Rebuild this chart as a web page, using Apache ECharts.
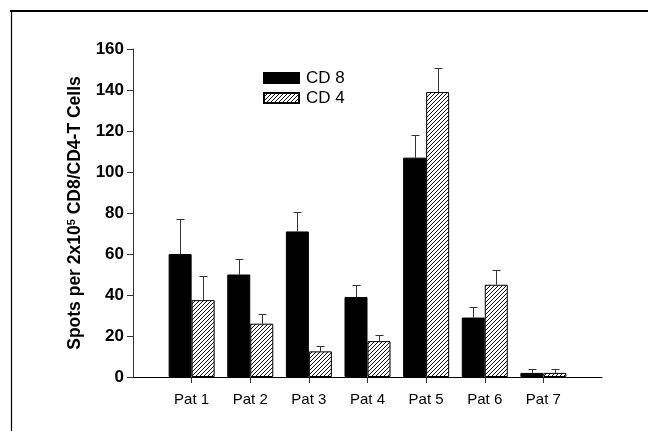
<!DOCTYPE html>
<html>
<head>
<meta charset="utf-8">
<script src="https://cdn.jsdelivr.net/npm/echarts@6/dist/echarts.min.js"></script>
<style>
  html, body { margin: 0; padding: 0; background: #fff; overflow: hidden; }
  #chart { width: 648px; height: 431px; }
</style>
</head>
<body>
<div id="chart"></div>
<script>
// values
const patients = ['Pat 1', 'Pat 2', 'Pat 3', 'Pat 4', 'Pat 5', 'Pat 6', 'Pat 7']
const cd8Values = [60, 50, 71, 39, 107, 29, 2]
const cd8Errors = [17, 7.5, 9.5, 6, 11, 5, 2]
const cd4Values = [37.5, 26, 12.5, 17.5, 139, 45, 2]
const cd4Errors = [12, 4.5, 2.5, 3, 11.5, 7, 2]
const yTicks = [0, 20, 40, 60, 80, 100, 120, 140, 160]

// empty slot on both ends so the axis runs half a bar group past Pat 1 / Pat 7
const categories = [''].concat(patients, [''])
function pad(arr) {
  return [null].concat(arr, [null])
}

// hatch pattern "/" for CD 4
function makeHatch() {
  let c = document.createElement('canvas')
  c.width = 4
  c.height = 4
  let ctx = c.getContext('2d')
  ctx.fillStyle = '#fff'
  ctx.fillRect(0, 0, 4, 4)
  ctx.fillStyle = '#111'
  for (let i = 0; i < 4; i++) {
    ctx.fillRect(i, 3 - i, 1, 1)
  }
  return c
}

const BAR_W = 23
let chart = echarts.init(document.getElementById('chart'))

function errorSeries(values, errors, shift) {
  let data = values.map(function (v, i) {
    return [i + 1, v, v + errors[i]]
  })
  return {
    type: 'custom',
    silent: true,
    z: 1,
    data: data,
    renderItem: function (params, api) {
      let base = api.coord([api.value(0), api.value(1)])
      let top = api.coord([api.value(0), api.value(2)])
      let x = Math.round(base[0] + shift * BAR_W / 2) + 0.5
      let yt = Math.round(top[1]) + 0.5
      return {
        type: 'group',
        children: [
          {type: 'line', shape: {x1: x, y1: base[1], x2: x, y2: yt}, style: {stroke: '#333', lineWidth: 1}},
          {type: 'line', shape: {x1: x - 4, y1: yt, x2: x + 4, y2: yt}, style: {stroke: '#333', lineWidth: 1}}
        ]
      }
    }
  }
}

let option = {
  animation: false,
  backgroundColor: '#fff',
  textStyle: {fontFamily: 'Liberation Sans, Arial, sans-serif'},
  grid: {left: 133, right: 46, top: 49, bottom: 54},
  legend: {
    left: 258,
    top: 63,
    orient: 'vertical',
    icon: 'rect',
    itemWidth: 35,
    itemHeight: 10,
    itemGap: 0,
    textStyle: {fontSize: 17, lineHeight: 20, color: '#000', padding: [0, 0, 0, 2]},
    data: ['CD 8', 'CD 4']
  },
  xAxis: {
    type: 'category',
    data: categories,
    boundaryGap: false,
    axisLine: {lineStyle: {color: '#000', width: 1}},
    axisTick: {
      length: 6,
      lineStyle: {color: '#333'},
      interval: function (i) { return i > 0 && i < categories.length - 1 }
    },
    axisLabel: {
      fontSize: 15,
      color: '#000',
      margin: 15,
      interval: function (i) { return i > 0 && i < categories.length - 1 }
    }
  },
  yAxis: {
    type: 'value',
    min: yTicks[0],
    max: yTicks[yTicks.length - 1],
    interval: yTicks[1] - yTicks[0],
    name: 'Spots per 2x10{sup|5} CD8/CD4-T Cells',
    nameLocation: 'middle',
    nameGap: 49,
    nameTextStyle: {
      fontSize: 17.5,
      fontWeight: 'bold',
      color: '#000',
      rich: {
        sup: {fontSize: 11, fontWeight: 'bold', color: '#000', padding: [0, 0, 7, 0]}
      }
    },
    splitLine: {show: false},
    axisLine: {show: true, lineStyle: {color: '#333', width: 1}},
    axisTick: {show: true, length: 6, lineStyle: {color: '#333'}},
    axisLabel: {fontSize: 17, fontWeight: 'bold', color: '#000', margin: 9}
  },
  series: [
    {
      name: 'CD 8',
      type: 'bar',
      barWidth: BAR_W,
      barGap: '0%',
      z: 2,
      itemStyle: {color: '#000', borderColor: '#000', borderWidth: 1},
      data: pad(cd8Values)
    },
    {
      name: 'CD 4',
      type: 'bar',
      barWidth: BAR_W,
      barGap: '0%',
      z: 2,
      itemStyle: {color: {image: makeHatch(), repeat: 'repeat'}, borderColor: '#000', borderWidth: 1},
      data: pad(cd4Values)
    },
    errorSeries(cd8Values, cd8Errors, -1),
    errorSeries(cd4Values, cd4Errors, 1)
  ],
  graphic: [
    {type: 'line', shape: {x1: 10, y1: 11, x2: 700, y2: 11}, style: {stroke: '#000', lineWidth: 2}},
    {type: 'line', shape: {x1: 11.5, y1: 10, x2: 11.5, y2: 500}, style: {stroke: '#000', lineWidth: 1.2}}
  ]
}

chart.setOption(option)
</script>
</body>
</html>
